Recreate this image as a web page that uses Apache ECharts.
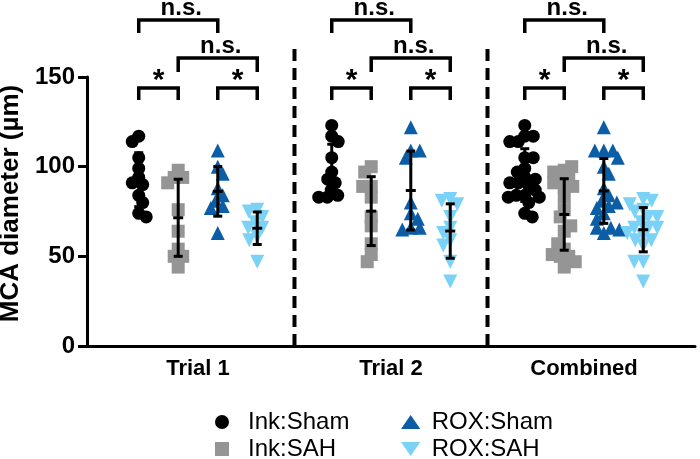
<!DOCTYPE html>
<html><head><meta charset="utf-8">
<script src="https://cdn.jsdelivr.net/npm/echarts@6/dist/echarts.min.js"></script>
<style>html,body{margin:0;padding:0;background:#fff}#c{width:700px;height:459px}</style>
</head><body><div id="c"></div>
<script>
// ---------------- data ----------------
const categories = ['Trial 1', 'Trial 2', 'Combined'];
const groupNames = ['Ink:Sham', 'Ink:SAH', 'ROX:Sham', 'ROX:SAH'];
const yTicks = [0, 50, 100, 150];

const inkShamT1 = [117, 114, 105, 99, 94, 91, 90, 84, 80, 74, 72];
const inkSahT1  = [98, 94, 94, 91, 76, 64, 54, 50, 50, 44];
const roxShamT1 = [109, 100, 96, 88, 84, 81, 78, 77, 63];
const roxSahT1  = [76, 75, 72, 69, 66, 66, 61, 59, 47];

const inkShamT2 = [123, 117, 114, 105, 97, 93, 91, 87, 84, 83, 83];
const inkSahT2  = [100, 97, 89, 89, 83, 72, 67, 57, 51, 47];
const roxShamT2 = [122, 109, 109, 105, 80, 74, 71, 66, 66, 65];
const roxSahT2  = [82, 81, 79, 72, 66, 63, 59, 56, 47, 36];

// Combined = both trials pooled
const inkShamComb = inkShamT1.concat(inkShamT2);
const inkSahComb  = inkSahT1.concat(inkSahT2);
const roxShamComb = roxShamT1.concat(roxShamT2);
const roxSahComb  = roxSahT1.concat(roxSahT2);

// significance comparisons (group index a vs b) and label
const comparisons = [
  { a: 0, b: 2, label: 'n.s.', level: 2 },
  { a: 1, b: 3, label: 'n.s.', level: 1 },
  { a: 0, b: 1, label: '*', level: 0 },
  { a: 2, b: 3, label: '*', level: 0 }
];

// ---------------- layout / style ----------------
const groups = [
  [inkShamT1, inkShamT2, inkShamComb],
  [inkSahT1, inkSahT2, inkSahComb],
  [roxShamT1, roxShamT2, roxShamComb],
  [roxSahT1, roxSahT2, roxSahComb]
];
const groupOffset = [-0.307, -0.1025, 0.1025, 0.307];
const colors = ['#000000', '#959595', '#0b5ea6', '#7ad2f7'];
const downTri = 'path://M0,0L2,0L1,1.732Z';
const symbols = ['circle', 'rect', 'triangle', downTri];
const symSize = [13, 13, 14, 14];
const legendIcons = ['circle', 'path://M0,0L1,0L1,1L0,1Z',
  'path://M1,0L2,1.45L0,1.45Z', 'path://M0,0L2,0L1,1.45Z'];
const FONT = 'Liberation Sans, Arial, Helvetica, sans-serif';
const GRID = { left: 87, right: 5, top: 77, bottom: 113 };
const X_MIN = -0.575, X_MAX = 2.575;
const pxPerUnitY = (459 - GRID.top - GRID.bottom) / 150;
// bracket geometry (in axis value units) per level: bar, leg bottom, text
const bracketLevels = [
  { bar: 143.9, leg: 137.2, text: 151.2 },
  { bar: 160.6, leg: 152.8, text: 167.0 },
  { bar: 181.8, leg: 174.5, text: 188.0 }
];

function swarm(vals, size) {
  const placed = [];
  return vals.map((v, i) => {
    const y = v * pxPerUnitY;
    let best = 0;
    const side = i % 2 === 0 ? 1 : -1;
    for (let k = 0; k < 400; k++) {
      const cands = k === 0 ? [0] : [side * k * 0.5, -side * k * 0.5];
      let found = null;
      for (const dx of cands) {
        if (placed.every(p => Math.hypot(p[0] - dx, p[1] - y) >= size)) { found = dx; break; }
      }
      if (found !== null) { best = found; break; }
    }
    placed.push([best, y]);
    return best;
  });
}
function mean(a) { return a.reduce((s, v) => s + v, 0) / a.length; }
function sd(a) { const m = mean(a); return Math.sqrt(a.reduce((s, v) => s + (v - m) * (v - m), 0) / (a.length - 1)); }

const series = [];
groupNames.forEach((name, g) => {
  const data = [];
  groups[g].forEach((vals, c) => {
    const offs = swarm(vals, symSize[g] * 0.62);
    vals.forEach((v, i) => {
      data.push({ value: [c + groupOffset[g], v], symbolOffset: [offs[i], 0] });
    });
  });
  series.push({
    name, type: 'scatter', data, symbol: symbols[g], symbolSize: symSize[g],
    itemStyle: { color: colors[g], opacity: 1 }, z: 2 + g, silent: true,
    emphasis: { disabled: true }
  });
});

// error bars (mean ± SD)
const errData = [];
groups.forEach((gArr, g) => gArr.forEach((vals, c) => errData.push([c + groupOffset[g], mean(vals), sd(vals)])));
series.push({
  type: 'custom', z: 10, silent: true, data: errData,
  renderItem(params, api) {
    const x = api.value(0), m = api.value(1), s = api.value(2);
    const t = api.coord([x, m + s]), b = api.coord([x, m - s]), c = api.coord([x, m]);
    const st = { stroke: '#000', lineWidth: 3 };
    return { type: 'group', children: [
      { type: 'line', shape: { x1: t[0], y1: t[1], x2: b[0], y2: b[1] }, style: st },
      { type: 'line', shape: { x1: t[0] - 4.5, y1: t[1], x2: t[0] + 4.5, y2: t[1] }, style: st },
      { type: 'line', shape: { x1: b[0] - 4.5, y1: b[1], x2: b[0] + 4.5, y2: b[1] }, style: st },
      { type: 'line', shape: { x1: c[0] - 5, y1: c[1], x2: c[0] + 5, y2: c[1] }, style: st }
    ] };
  }
});

// brackets
const brData = [];
categories.forEach((cat, c) => comparisons.forEach((cmp, k) =>
  brData.push([c + groupOffset[cmp.a], c + groupOffset[cmp.b], cmp.level, k])));
series.push({
  type: 'custom', z: 10, silent: true, clip: false, data: brData,
  renderItem(params, api) {
    const xa = api.value(0), xb = api.value(1), lv = bracketLevels[api.value(2)];
    const lab = comparisons[api.value(3)].label;
    const p1 = api.coord([xa, lv.leg]), p2 = api.coord([xa, lv.bar]);
    const p3 = api.coord([xb, lv.bar]), p4 = api.coord([xb, lv.leg]);
    const tp = api.coord([(xa + xb) / 2, lv.text]);
    const isStar = lab === '*';
    return { type: 'group', children: [
      { type: 'polyline', shape: { points: [p1, p2, p3, p4] },
        style: { stroke: '#000', lineWidth: 3.5, fill: null, lineJoin: 'miter' } },
      { type: 'text', style: { text: lab, x: tp[0] + (isStar ? 0 : 3), y: tp[1] + (isStar ? 6 : 0),
        align: 'center', verticalAlign: 'middle', fill: '#000',
        fontSize: isStar ? 30 : 24, fontWeight: 'bold', fontFamily: FONT } }
    ] };
  }
});

// dashed separators between panels
series.push({
  type: 'custom', z: 1, silent: true, clip: false, data: [[0.5], [1.5]],
  renderItem(params, api) {
    const x = api.value(0);
    const b = api.coord([x, 0]), t = api.coord([x, 166]);
    return { type: 'line', shape: { x1: b[0], y1: b[1], x2: t[0], y2: t[1] },
      style: { stroke: '#000', lineWidth: 4, lineDash: [12, 7] } };
  }
});

const legendCommon = {
  orient: 'vertical', top: 410, height: 90, padding: 0, itemHeight: 14, itemGap: 3,
  selectedMode: false, symbolKeepAspect: true,
  textStyle: { color: '#000', fontSize: 24, lineHeight: 24, fontFamily: FONT }
};
const legendItem = g => ({ name: groupNames[g], icon: legendIcons[g] });

const chart = echarts.init(document.getElementById('c'), null, { renderer: 'canvas' });
chart.setOption({
  animation: false,
  backgroundColor: '#fff',
  grid: Object.assign({ outerBoundsMode: 'none', containLabel: false }, GRID),
  xAxis: {
    type: 'value', min: X_MIN, max: X_MAX,
    axisLine: { show: true, onZero: false, lineStyle: { color: '#000', width: 3 } },
    axisTick: { show: false },
    splitLine: { show: false },
    axisLabel: {
      customValues: [0, 1, 2], margin: 12,
      formatter: v => categories[Math.round(v)] || '',
      color: '#000', fontSize: 22, fontWeight: 'bold', fontFamily: FONT
    }
  },
  yAxis: {
    type: 'value', min: 0, max: 150, interval: 50,
    name: 'MCA diameter (µm)', nameLocation: 'middle', nameGap: 60,
    nameTextStyle: { color: '#000', fontSize: 26, fontWeight: 'bold', fontFamily: FONT,
      padding: [0, 0, 0, 16] },
    axisLine: { show: true, onZero: false, lineStyle: { color: '#000', width: 3 } },
    axisTick: { show: true, length: 9, lineStyle: { color: '#000', width: 3 } },
    splitLine: { show: false },
    axisLabel: { margin: 12, color: '#000', fontSize: 24, fontWeight: 'bold', fontFamily: FONT }
  },
  legend: [
    Object.assign({ data: [legendItem(0), legendItem(1)], left: 215, itemWidth: 42 }, legendCommon),
    Object.assign({ data: [legendItem(2), legendItem(3)], left: 401, itemWidth: 32 }, legendCommon)
  ],
  series
});
</script></body></html>
